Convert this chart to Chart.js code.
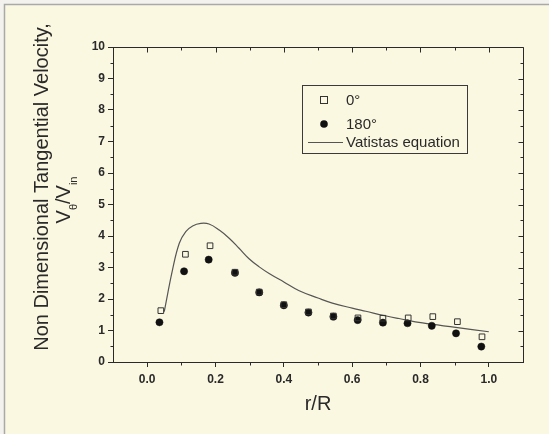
<!DOCTYPE html>
<html>
<head>
<meta charset="utf-8">
<script src="https://cdn.jsdelivr.net/npm/chart.js@4.4.1/dist/chart.umd.min.js"></script>
<style>
	html, body { margin: 0; padding: 0; background: #fbf8e1; }
	canvas { display: block; }
</style>
</head>
<body>
<canvas id="c" width="549" height="434"></canvas>
<script>
const r0 = [0.040, 0.112, 0.184, 0.257, 0.328, 0.400, 0.472, 0.545, 0.617, 0.690, 0.764, 0.836, 0.908, 0.980];
const v0 = [1.63, 3.42, 3.69, 2.85, 2.22, 1.82, 1.59, 1.46, 1.40, 1.39, 1.40, 1.44, 1.28, 0.80];
const r180 = [0.036, 0.108, 0.180, 0.257, 0.328, 0.400, 0.472, 0.545, 0.616, 0.690, 0.762, 0.833, 0.904, 0.978];
const v180 = [1.26, 2.88, 3.25, 2.83, 2.21, 1.80, 1.57, 1.44, 1.33, 1.25, 1.23, 1.15, 0.91, 0.49];
// Vatistas curve, traced at a handful of points
const rFit = [0.050, 0.074, 0.094, 0.113, 0.133, 0.157, 0.181, 0.211, 0.240, 0.269, 0.299, 0.328, 0.357, 0.400, 0.445, 0.500, 0.542, 0.600, 0.640, 0.700, 0.737, 0.806, 0.903, 1.000];
const vFit = [1.60, 2.92, 3.77, 4.14, 4.32, 4.40, 4.38, 4.19, 3.93, 3.61, 3.27, 3.02, 2.81, 2.54, 2.26, 2.03, 1.87, 1.71, 1.61, 1.46, 1.38, 1.24, 1.10, 0.96];

const xTicks = [0.0, 0.2, 0.4, 0.6, 0.8, 1.0];
const yTicks = [0, 1, 2, 3, 4, 5, 6, 7, 8, 9, 10];
const seriesLabels = ['0°', '180°', 'Vatistas equation'];
const xTitle = 'r/R';
const yTitle = 'Non Dimensional Tangential Velocity,';

const FONT = '"Liberation Sans", Arial, sans-serif';
const INK = '#2a2a2a';
const BG = '#fbf8e1';

const pts = (xs, ys) => xs.map((x, i) => ({ x, y: ys[i] }));

// cream page with the thin grey frame at the top/left edge
const background = {
	id: 'background',
	beforeDraw(chart) {
		const { ctx, width, height } = chart;
		ctx.save();
		ctx.fillStyle = '#f3f2ee';
		ctx.fillRect(0, 0, width, height);
		ctx.fillStyle = BG;
		ctx.fillRect(5, 5, width - 5, height - 5);
		ctx.strokeStyle = '#a9a9a9';
		ctx.lineWidth = 1.5;
		ctx.beginPath();
		ctx.moveTo(4.5, height); ctx.lineTo(4.5, 4.5); ctx.lineTo(width, 4.5);
		ctx.stroke();
		ctx.restore();
	},
};

// Origin-style frame: top/right mirror axes with inward ticks, minor ticks everywhere
const frame = {
	id: 'frame',
	afterDraw(chart) {
		const { ctx, chartArea: a, scales: { x, y } } = chart;
		const L = Math.round(a.left) + 0.5, R = Math.round(a.right) + 0.5;
		const T = Math.round(a.top) + 0.5, B = Math.round(a.bottom) + 0.5;
		const mids = vals => vals.slice(1).map((v, i) => (v + vals[i]) / 2);
		const xMaj = x.ticks.map(t => t.value), yMaj = y.ticks.map(t => t.value);
		// minor ticks between majors, plus the ones just outside 0.0 / 1.0
		const xMin = [xMaj[0] - 0.1, ...mids(xMaj), xMaj[xMaj.length - 1] + 0.1].filter(v => v > x.min && v < x.max);
		const yMin = mids(yMaj);
		ctx.save();
		ctx.strokeStyle = INK;
		ctx.lineWidth = 1;
		ctx.beginPath();
		ctx.moveTo(L, T); ctx.lineTo(R, T); ctx.lineTo(R, B);
		const vTick = (v, y0, len) => { const px = Math.round(x.getPixelForValue(v)) + 0.5; ctx.moveTo(px, y0); ctx.lineTo(px, y0 + len); };
		const hTick = (v, x0, len) => { const py = Math.round(y.getPixelForValue(v)) + 0.5; ctx.moveTo(x0, py); ctx.lineTo(x0 + len, py); };
		xMaj.forEach(v => vTick(v, T, 5));
		xMin.forEach(v => { vTick(v, T, 3); vTick(v, B, 3); });
		yMaj.forEach(v => hTick(v, R, -5));
		yMin.forEach(v => { hTick(v, R, -3); hTick(v, L, -3); });
		ctx.stroke();
		ctx.restore();
	},
};

// two-line rotated y title; second line carries the subscripts
const yAxisTitle = {
	id: 'yAxisTitle',
	afterDraw(chart) {
		const { ctx } = chart;
		ctx.save();
		ctx.fillStyle = INK;
		ctx.translate(48, 187);
		ctx.rotate(-Math.PI / 2);
		ctx.font = `20px ${FONT}`;
		ctx.textAlign = 'center';
		ctx.textBaseline = 'alphabetic';
		ctx.fillText(yTitle, 0, 0);
		ctx.restore();

		const parts = [['V', false], ['θ', true], ['/', false], ['V', false], ['in', true]];
		ctx.save();
		ctx.fillStyle = INK;
		ctx.translate(70, 200);
		ctx.rotate(-Math.PI / 2);
		ctx.textAlign = 'left';
		ctx.textBaseline = 'alphabetic';
		const big = `20px ${FONT}`, small = `11px ${FONT}`;
		const widths = parts.map(([t, sub]) => { ctx.font = sub ? small : big; return ctx.measureText(t).width; });
		let cx = -widths.reduce((s, w) => s + w, 0) / 2;
		parts.forEach(([t, sub], i) => {
			ctx.font = sub ? small : big;
			ctx.fillText(t, cx, sub ? 7 : 0);
			cx += widths[i];
		});
		ctx.restore();
	},
};

// boxed legend inside the plot, upper right
const boxLegend = {
	id: 'boxLegend',
	afterDraw(chart) {
		const { ctx } = chart;
		const bx = 302, by = 85, bw = 165, bh = 68;
		ctx.save();
		ctx.strokeStyle = '#3a3a3a';
		ctx.lineWidth = 1;
		ctx.strokeRect(bx + 0.5, by + 0.5, bw, bh);
		ctx.font = `15px ${FONT}`;
		ctx.textBaseline = 'middle';
		const rows = [100, 124, 142];
		chart.data.datasets.forEach((ds, i) => {
			const cy = rows[i];
			ctx.strokeStyle = ds.borderColor;
			ctx.lineWidth = 1;
			if (ds.pointStyle === 'rect') {
				ctx.strokeRect(320.5, cy - 3.5, 7, 7);
			} else if (ds.pointStyle === 'circle') {
				ctx.fillStyle = ds.backgroundColor;
				ctx.beginPath(); ctx.arc(324, cy, 3.8, 0, Math.PI * 2); ctx.fill();
			} else {
				ctx.lineWidth = ds.borderWidth;
				ctx.beginPath(); ctx.moveTo(308, cy + 0.5); ctx.lineTo(343, cy + 0.5); ctx.stroke();
			}
			ctx.fillStyle = INK;
			ctx.fillText(ds.label, 346, cy + 1);
		});
		ctx.restore();
	},
};

new Chart(document.getElementById('c'), {
	type: 'scatter',
	data: {
		datasets: [
			{ label: seriesLabels[0], data: pts(r0, v0), pointStyle: 'rect', pointRadius: 4, borderWidth: 1,
				borderColor: '#333', backgroundColor: 'rgba(0,0,0,0)' },
			{ label: seriesLabels[1], data: pts(r180, v180), pointStyle: 'circle', pointRadius: 3.6, borderWidth: 0.5,
				borderColor: '#111', backgroundColor: '#111' },
			{ label: seriesLabels[2], data: pts(rFit, vFit), showLine: true, pointRadius: 0, borderWidth: 1.2,
				borderColor: '#555', backgroundColor: '#555', tension: 0.4 },
		],
	},
	options: {
		responsive: false,
		animation: false,
		layout: { padding: { left: 0, top: 47, right: 26, bottom: 14 } },
		plugins: { legend: { display: false }, tooltip: { enabled: false } },
		scales: {
			x: {
				type: 'linear', min: -0.1, max: 1.1,
				afterBuildTicks: s => { s.ticks = xTicks.map(value => ({ value })); },
				afterFit: s => { s.height = 58; },
				ticks: { padding: 5, color: INK, font: { family: FONT, size: 12, weight: 'bold' },
					callback: v => v.toFixed(1) },
				grid: { drawOnChartArea: false, drawTicks: true, tickLength: 5, color: INK },
				border: { color: INK, width: 1 },
				title: { display: true, text: xTitle, color: INK, font: { family: FONT, size: 20 } },
			},
			y: {
				min: 0, max: 10,
				afterBuildTicks: s => { s.ticks = yTicks.map(value => ({ value })); },
				afterFit: s => { s.width = 113; },
				ticks: { padding: 3, color: INK, font: { family: FONT, size: 12, weight: 'bold' } },
				grid: { drawOnChartArea: false, drawTicks: true, tickLength: 5, color: INK },
				border: { color: INK, width: 1 },
			},
		},
	},
	plugins: [background, frame, yAxisTitle, boxLegend],
});
</script>
</body>
</html>
